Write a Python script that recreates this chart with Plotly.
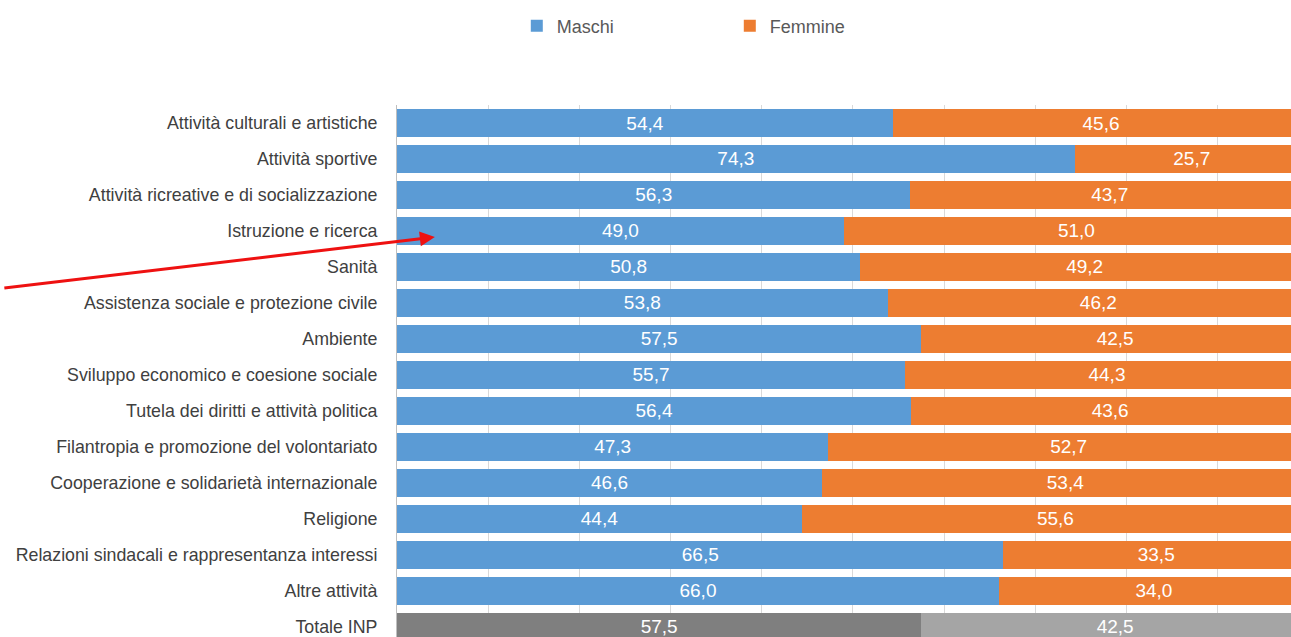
import plotly.graph_objects as go

categories = [
    "Attività culturali e artistiche",
    "Attività sportive",
    "Attività ricreative e di socializzazione",
    "Istruzione e ricerca",
    "Sanità",
    "Assistenza sociale e protezione civile",
    "Ambiente",
    "Sviluppo economico e coesione sociale",
    "Tutela dei diritti e attività politica",
    "Filantropia e promozione del volontariato",
    "Cooperazione e solidarietà internazionale",
    "Religione",
    "Relazioni sindacali e rappresentanza interessi",
    "Altre attività",
    "Totale INP",
]
maschi = [54.4, 74.3, 56.3, 49.0, 50.8, 53.8, 57.5, 55.7, 56.4, 47.3, 46.6, 44.4, 66.5, 66.0, 57.5]
femmine = [45.6, 25.7, 43.7, 51.0, 49.2, 46.2, 42.5, 44.3, 43.6, 52.7, 53.4, 55.6, 33.5, 34.0, 42.5]

FONT = "Liberation Sans Narrow, Liberation Sans, Arial"

def fmt(v):
    return f"{v:.1f}".replace(".", ",")

n = len(categories)
m_colors = ["#5b9bd5"] * (n - 1) + ["#7f7f7f"]
f_colors = ["#ed7d31"] * (n - 1) + ["#a5a5a5"]

fig = go.Figure()
fig.add_trace(go.Bar(
    y=categories, x=maschi, orientation="h", name="Maschi",
    marker=dict(color=m_colors, line=dict(width=0)),
    text=[fmt(v) for v in maschi], textposition="inside",
    insidetextanchor="middle", textangle=0,
    textfont=dict(color="white", size=19, family=FONT),
))
fig.add_trace(go.Bar(
    y=categories, x=femmine, orientation="h", name="Femmine",
    marker=dict(color=f_colors, line=dict(width=0)),
    text=[fmt(v) for v in femmine], textposition="inside",
    insidetextanchor="middle", textangle=0,
    textfont=dict(color="white", size=19, family=FONT),
))

fig.add_annotation(
    x=4.15, y=3.17, xref="x", yref="y", text="",
    showarrow=True, ax=-432, ay=51, axref="pixel", ayref="pixel",
    arrowcolor="#ee1111", arrowwidth=3, arrowhead=2, arrowsize=1,
)

fig.update_layout(
    width=1291, height=637,
    barmode="stack", bargap=0.2,
    paper_bgcolor="white", plot_bgcolor="white",
    margin=dict(l=397, r=0, t=105, b=0, autoexpand=False),
    font=dict(family=FONT, color="#404040", size=17),
    showlegend=True,
    legend=dict(
        orientation="h", traceorder="normal",
        x=0.134, xanchor="left",
        y=0.988, yref="container", yanchor="top",
        entrywidth=168, entrywidthmode="pixels",
        font=dict(size=18, color="#595959", family=FONT),
    ),
    xaxis=dict(range=[0, 98.03], showgrid=True, gridcolor="#d9d9d9", gridwidth=1,
               dtick=10, showticklabels=False, zeroline=False, showline=False, fixedrange=True),
    yaxis=dict(autorange=False, range=[14.28, -0.5], type="category", automargin=False,
               showgrid=False, showline=True, linecolor="#bfbfbf", linewidth=1,
               ticks="", ticklabelstandoff=15,
               tickfont=dict(size=17.8, color="#404040", family=FONT)),
)

fig.write_html(
    "out.html",
    config={"displayModeBar": False},
    post_script="document.body.style.margin='0';document.body.style.overflow='hidden';",
)
